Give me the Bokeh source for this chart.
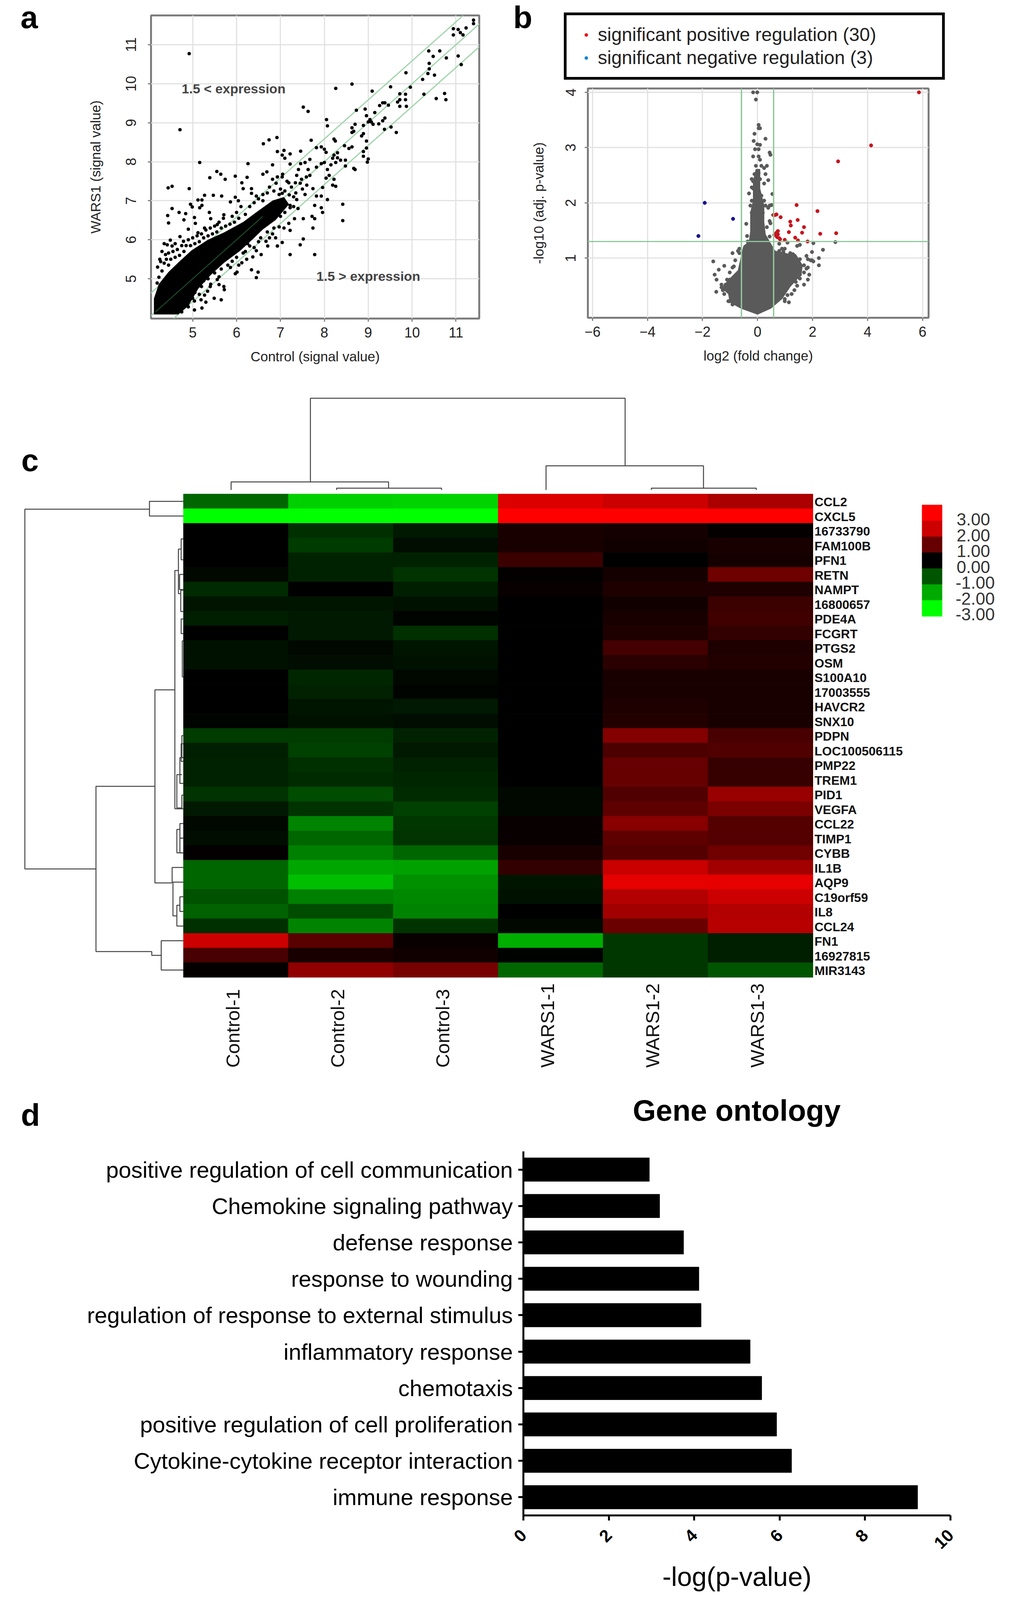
from math import pi
from bokeh.plotting import figure
from bokeh.layouts import row, column
from bokeh.core.properties import value
from bokeh.models import (FactorRange, FixedTicker, Label, Legend, LegendItem, Range1d, Slope, Span)
from bokeh.embed import file_html
from bokeh.resources import INLINE

FONT = "Liberation Sans"

# panel a, scatter
a_ticks = [5, 6, 7, 8, 9, 10, 11]
fold_offset = 0.585
a_blob_x = [4.12, 4.12, 4.23, 4.45, 4.67, 4.97, 5.34, 5.71, 6.15, 6.45, 6.82, 7.08, 7.19, 6.89, 6.60, 6.37, 6.08, 5.71, 5.41, 5.12, 4.90, 4.67]
a_blob_y = [4.09, 4.49, 4.86, 5.17, 5.41, 5.72, 5.99, 6.18, 6.45, 6.70, 7.00, 7.09, 6.91, 6.51, 6.27, 6.02, 5.72, 5.41, 5.10, 4.74, 4.31, 4.09]
a_x = [11.40, 11.40, 10.94, 10.94, 11.05, 11.23, 11.10, 11.16, 10.38, 10.63, 10.48, 10.78, 11.05, 11.12, 10.39, 10.39, 10.36, 10.51, 9.86, 10.24,
       9.96, 9.51, 8.63, 8.26, 9.09, 9.72, 9.85, 10.27, 10.74, 10.55, 10.77, 9.67, 9.72, 9.85, 9.72, 9.87, 7.52, 7.63, 4.92, 4.71,
       8.73, 8.93, 9.15, 9.26, 9.33, 9.38, 9.46, 8.96, 9.04, 9.00, 9.07, 9.11, 9.24, 9.33, 9.38, 8.05, 8.07, 8.70, 8.63, 8.67,
       8.63, 8.89, 8.89, 8.85, 8.96, 9.37, 9.52, 9.64, 6.61, 6.74, 6.92, 7.70, 8.22, 8.25, 7.82, 7.93, 8.00, 8.04, 8.46, 8.56,
       8.63, 8.96, 8.89, 8.89, 9.00, 8.98, 8.30, 8.22, 8.19, 8.30,
       4.43, 4.45, 4.53, 4.44, 4.53, 4.92, 4.95, 4.99, 4.69, 4.84, 4.80, 5.16, 5.39, 5.55, 5.64, 5.74, 5.97, 6.24, 6.26, 5.27,
       5.47, 5.66, 5.12, 5.21, 5.21, 5.16, 5.38, 5.41, 5.04, 5.06, 4.90, 4.71, 4.49, 4.42, 4.53, 4.38, 4.27, 4.23, 4.19, 4.45,
       4.79, 5.12, 5.27, 5.56, 5.71, 5.97, 5.86, 6.04, 6.15, 6.12, 6.34, 6.34, 6.45, 6.60, 6.60, 6.69, 6.82, 6.93, 7.04, 7.05,
       6.82, 6.93, 7.08, 7.04, 7.10, 7.22, 7.22, 7.46, 7.46, 7.56, 7.67,
       7.19, 7.34, 7.37, 7.48, 7.59, 7.67, 7.41, 7.63, 7.82, 7.93, 8.00, 8.07, 8.11, 8.04, 8.22, 8.19, 8.26, 7.96, 7.74, 7.56,
       7.82, 7.93, 8.07, 7.37, 7.22, 7.11, 6.97, 6.97, 7.04, 7.22, 8.48, 8.70, 8.67, 8.48, 8.37, 8.26, 8.15,
       7.10, 7.20, 7.30, 7.35, 7.50, 7.60, 7.45, 7.25,
       8.42, 8.42, 7.93, 7.96, 7.78, 7.72, 7.78, 7.74, 7.52, 7.32, 7.19, 7.22, 7.08, 7.52, 7.45, 7.22, 7.78, 7.04, 6.89, 6.93,
       6.71, 6.56, 6.45, 6.37, 6.23, 6.34, 6.49, 6.45, 6.12, 6.01, 5.97, 5.71, 5.72, 5.49, 5.65, 5.21, 5.04, 4.90, 5.41, 5.34,
       5.19, 5.04, 5.86, 6.15, 6.67, 6.82, 6.97, 6.30, 5.56, 5.27,
       4.20, 4.25, 4.30, 4.35, 4.30, 4.35, 4.40, 4.45, 4.50, 4.55, 4.60, 4.65, 4.70, 4.60, 4.75, 4.80, 4.85, 4.90, 4.95, 5.00,
       5.05, 5.10, 5.15, 5.20, 5.25, 5.30, 5.35, 5.40, 5.45, 5.50, 5.55, 5.60, 5.65, 5.70, 5.75, 5.85, 5.90, 5.95, 6.00, 6.05,
       6.10, 6.20, 6.30, 6.40, 6.50, 6.60, 6.70, 6.75, 6.85, 6.90, 7.00, 7.15,
       4.75, 4.85, 5.00, 5.05, 5.20, 5.25, 5.35, 5.40, 5.50, 5.60, 5.65, 5.80, 5.90, 6.00, 6.05, 6.20, 6.25, 6.40, 6.50, 6.55,
       6.70, 6.75, 6.85, 7.00, 7.10, 7.30, 7.40, 5.15, 5.30, 5.60]
a_y = [11.63, 11.54, 11.41, 11.25, 11.39, 11.43, 11.31, 11.25, 10.84, 10.84, 10.70, 10.66, 10.71, 10.49, 10.52, 10.38, 10.26, 10.22, 10.28, 10.11,
       9.91, 9.92, 9.99, 9.88, 9.81, 9.74, 9.73, 9.73, 9.75, 9.62, 9.59, 9.53, 9.59, 9.59, 9.42, 9.42, 9.40, 9.29, 10.77, 8.82,
       9.32, 9.35, 9.26, 9.44, 9.51, 9.51, 9.45, 9.18, 9.08, 9.02, 9.02, 8.96, 8.97, 9.05, 9.12, 9.08, 8.92, 8.96, 8.87, 8.78,
       8.75, 8.93, 8.72, 8.66, 8.53, 8.83, 8.89, 8.75, 8.46, 8.56, 8.62, 8.55, 8.58, 8.53, 8.36, 8.38, 8.32, 8.24, 8.41, 8.34,
       8.38, 8.35, 8.26, 8.14, 8.07, 7.99, 8.23, 8.17, 8.09, 8.10,
       6.62, 6.43, 6.80, 7.33, 7.37, 7.31, 6.91, 6.84, 6.70, 6.67, 6.51, 7.98, 7.59, 7.75, 7.68, 7.55, 7.63, 7.60, 7.95, 7.14,
       7.14, 7.12, 7.02, 7.02, 6.88, 6.82, 6.70, 6.54, 6.57, 6.42, 6.27, 6.08, 5.99, 5.87, 5.84, 5.62, 5.44, 5.04, 4.89, 5.66,
       5.96, 6.18, 6.30, 6.39, 6.64, 7.09, 6.97, 7.00, 7.31, 7.46, 7.31, 7.19, 7.12, 7.16, 7.68, 7.74, 7.55, 7.61, 7.61, 7.68,
       7.92, 8.26, 8.29, 8.17, 8.09, 8.20, 7.94, 8.27, 7.95, 7.98, 8.06,
       7.46, 7.46, 7.65, 7.55, 7.61, 7.65, 7.80, 7.80, 7.86, 7.95, 7.98, 7.80, 7.65, 7.58, 7.55, 7.40, 7.37, 7.34, 7.31, 7.16,
       7.12, 7.12, 7.03, 7.03, 6.88, 6.94, 7.00, 7.16, 7.19, 6.82, 7.89, 7.80, 7.83, 8.04, 8.04, 7.98, 7.92,
       7.25, 7.15, 7.10, 7.20, 7.30, 7.40, 7.45, 7.35,
       6.91, 6.49, 6.82, 6.70, 6.88, 6.60, 6.54, 6.30, 6.54, 6.54, 6.42, 6.24, 6.30, 6.02, 5.87, 5.62, 5.62, 5.93, 6.05, 5.84,
       5.84, 5.62, 5.72, 5.56, 5.50, 5.23, 5.17, 5.03, 5.41, 5.17, 5.13, 4.80, 4.72, 4.50, 4.46, 4.25, 4.20, 4.28, 4.86, 4.68,
       4.46, 4.43, 5.29, 5.66, 5.96, 6.15, 6.33, 5.84, 4.98, 4.58,
       5.30, 5.50, 5.20, 5.40, 5.70, 5.90, 5.50, 5.35, 5.50, 5.70, 5.55, 5.75, 5.60, 5.90, 5.85, 5.70, 5.85, 6.00, 5.85, 6.05,
       5.90, 6.10, 5.95, 6.15, 6.05, 6.25, 6.10, 6.30, 6.15, 6.35, 6.20, 6.45, 6.30, 6.55, 6.35, 6.40, 6.60, 6.45, 6.70, 6.55,
       6.85, 6.65, 6.85, 6.95, 7.05, 7.00, 7.20, 7.35, 7.25, 7.45, 7.30, 7.50,
       4.15, 4.40, 4.50, 4.65, 4.80, 4.95, 5.00, 4.80, 5.15, 5.05, 5.25, 5.35, 5.45, 5.55, 5.35, 5.70, 5.90, 5.80, 5.95, 6.05,
       6.20, 6.05, 6.30, 6.60, 6.70, 6.85, 6.80, 4.60, 4.40, 4.85]

# panel b, volcano
b_xticks = [-6, -4, -2, 0, 2, 4, 6]
b_yticks = [1, 2, 3, 4]
fold_cuts = [-0.585, 0.585]
p_cut = 1.3
pos_x = [5.87, 4.13, 2.93, 1.42, 2.18, 0.64, 0.57, 0.69, 0.84, 1.46, 1.19, 1.21, 1.69, 1.14, 1.62, 2.28, 2.86, 0.74, 0.69, 0.64, 0.74, 0.71, 0.79, 0.82, 0.99, 1.37, 1.47, 1.82, 0.61, 0.67]
pos_y = [4.0, 3.04, 2.75, 1.96, 1.85, 1.78, 1.78, 1.79, 1.74, 1.69, 1.66, 1.59, 1.56, 1.47, 1.46, 1.44, 1.45, 1.49, 1.46, 1.43, 1.43, 1.38, 1.36, 1.34, 1.33, 1.37, 1.32, 1.30, 1.42, 1.41]
neg_x = [-1.92, -0.89, -2.15]
neg_y = [2.0, 1.71, 1.40]
b_blob_x = [0, -0.61, -1.01, -1.06, -1.31, -1.01, -0.71, -0.61, -0.51, -0.31, -0.26, -0.26, -0.16, -0.16, -0.06, 0.09, 0.09, 0.24, 0.24, 0.29, 0.44, 0.64, 1.19, 1.39, 1.64, 1.59, 1.19, 0.89, 0.49]
b_blob_y = [-0.02, 0.09, 0.20, 0.35, 0.46, 0.63, 0.78, 1.0, 1.22, 1.30, 1.48, 1.82, 2.04, 2.39, 2.61, 2.61, 2.26, 1.95, 1.65, 1.43, 1.30, 1.13, 1.07, 1.07, 0.87, 0.70, 0.48, 0.26, 0.09]
grey_x = [-0.16, -0.01, -0.06, 0.04, 0.04, 0.09, -0.11, 0.29, -0.14, -0.01, 0.09, -0.09, 0.04, 0.44, 0.47, -0.16, 0.04, 0.09, 0.34, -0.06, 0.14, 0.24, 0.29, -0.11, 0.04, 0.39, -0.16, 0.24, -0.21, -0.31,
          0.54, 0.44, 0.51, -0.41, 0.44, 0.47, -0.38, 1.09, 2.03, 2.83, 0.79, 2.38, 1.98, 2.23, 2.23, 1.98, 1.83, -1.61, -1.21, -1.41, -1.56, -1.49, -1.50, -0.91, -0.66, -0.66, -0.56, -0.86, 1.14, 1.69,
          1.88, 1.83, 0.94, 1.09, 1.29, 1.49, 1.69, 1.78, 1.54, 1.39, 1.34, 1.09, 0.99, -1.01, -1.16, -1.31, -1.21, -1.01,
          1.54, 1.19, 0.94, 0.79, 0.89, 0.99, 1.44, 1.54, 1.78, 1.93, 2.03, 1.83, 1.69, 1.54, 1.44, 1.24, 0.99, -0.21, -0.26, 0.19, 0.29, 0.39, 0.34, 0.44, -0.36, -0.41, -0.71, -0.46, -0.81, -0.91,
          -1.01, -1.11, -1.31, -1.26, -1.06, -0.91, -0.16, 0.09, -0.21, 0.14, -0.21, 0.24]
grey_y = [4.0, 4.0, 3.87, 3.41, 3.35, 3.35, 3.25, 3.16, 3.12, 3.06, 3.05, 2.97, 2.97, 2.91, 2.87, 2.84, 2.84, 2.78, 2.67, 2.67, 2.67, 2.63, 2.52, 2.52, 2.54, 2.41, 2.39, 2.35, 2.28, 2.17,
          2.16, 1.95, 1.96, 1.62, 1.67, 1.63, 1.40, 1.28, 1.27, 1.29, 1.26, 1.15, 1.11, 1.0, 0.87, 0.96, 0.98, 0.94, 0.86, 0.79, 0.70, 0.61, 0.39, 1.09, 1.17, 1.09, 0.96, 0.85, 0.20, 0.52,
          0.70, 0.61, 0.96, 1.0, 1.07, 0.96, 0.87, 0.81, 0.70, 0.57, 0.42, 0.33, 0.26, 0.61, 0.52, 0.47, 0.35, 0.22,
          0.98, 1.09, 1.11, 1.13, 1.17, 1.17, 1.22, 1.24, 1.04, 0.96, 0.94, 0.83, 0.74, 0.63, 0.50, 0.35, 0.22, 1.82, 1.95, 1.82, 1.95, 1.91, 1.56, 1.39, 1.30, 1.17, 1.13, 0.98, 0.96, 0.83,
          0.74, 0.61, 0.52, 0.42, 0.22, 0.16, 2.26, 2.43, 2.43, 2.13, 2.04, 2.04]

# panel c, heatmap
samples = ["Control-1", "Control-2", "Control-3", "WARS1-1", "WARS1-2", "WARS1-3"]
genes = ["CCL2", "CXCL5", "16733790", "FAM100B", "PFN1", "RETN", "NAMPT", "16800657", "PDE4A", "FCGRT", "PTGS2", "OSM", "S100A10", "17003555", "HAVCR2", "SNX10", "PDPN",
         "LOC100506115", "PMP22", "TREM1", "PID1", "VEGFA", "CCL22", "TIMP1", "CYBB", "IL1B", "AQP9", "C19orf59", "IL8", "CCL24", "FN1", "16927815", "MIR3143"]
heat_values = [
    [-1.2, -2.45, -2.5, 2.6, 2.4, 2.0],
    [-3, -3, -3, 3, 3, 3],
    [0, -0.55, -0.3, 0.3, 0.25, 0.05],
    [0, -0.7, -0.15, 0.3, 0.2, 0.3],
    [0, -0.4, -0.4, 0.7, 0, 0.25],
    [-0.1, -0.4, -0.6, 0.03, 0.25, 1.3],
    [-0.5, 0, -0.35, 0.1, 0.35, 0.35],
    [-0.25, -0.25, -0.2, 0, 0.2, 0.7],
    [-0.35, -0.3, -0.05, 0, 0.3, 0.75],
    [0, -0.3, -0.55, 0, 0.35, 0.6],
    [-0.2, -0.1, -0.25, 0, 0.8, 0.35],
    [-0.2, -0.15, -0.2, 0, 0.5, 0.4],
    [0, -0.45, -0.1, 0, 0.3, 0.3],
    [0, -0.4, -0.05, 0, 0.3, 0.3],
    [0, -0.25, -0.3, 0, 0.35, 0.3],
    [-0.05, -0.2, -0.15, 0, 0.4, 0.3],
    [-0.7, -0.7, -0.4, 0, 1.55, 0.85],
    [-0.35, -0.75, -0.3, 0, 0.9, 0.95],
    [-0.4, -0.55, -0.4, 0, 1.2, 0.65],
    [-0.4, -0.5, -0.45, 0, 1.2, 0.65],
    [-0.6, -0.9, -0.5, -0.1, 0.95, 1.8],
    [-0.3, -0.6, -0.75, -0.1, 1.1, 1.45],
    [-0.1, -1.55, -0.65, 0.1, 1.6, 1.0],
    [-0.15, -1.2, -0.6, 0.1, 1.1, 1.0],
    [0.02, -1.5, -1.2, 0.3, 1.0, 1.3],
    [-1.2, -1.95, -1.9, 0.6, 2.35, 1.9],
    [-1.2, -2.25, -1.7, -0.25, 2.7, 2.7],
    [-0.95, -1.5, -1.6, -0.2, 2.1, 2.4],
    [-1.15, -0.9, -1.55, 0, 1.9, 2.1],
    [-0.55, -1.55, -0.6, -0.1, 1.25, 2.15],
    [2.4, 1.05, 0.1, -2.05, -0.65, -0.35],
    [0.85, 0.3, 0.2, -0.02, -0.65, -0.35],
    [0.05, 1.7, 1.4, -1.2, -0.65, -1.0],
]
key_labels = ["3.00", "2.00", "1.00", "0.00", "-1.00", "-2.00", "-3.00"]
key_colors = ["#ff0000", "#cc0000", "#660000", "#000000", "#005500", "#00aa00", "#00ff00"]

# dendrograms: from, to, height, end of first leg, end of second leg
top_from = [1.21, 0.454, 1.46, 3.456, 4.46]
top_to = [4.21, 1.955, 2.46, 4.957, 5.46]
top_height = [-6.54, -0.83, -0.40, -1.93, -0.40]
top_leg_a = [-0.83, -0.28, -0.28, -0.28, -0.28]
top_leg_b = [-1.93, -0.40, -0.28, -0.40, -0.28]
side_from = [1.03, 0.5, 19.96, 13.37, 5.22, 25.5, 26.5, 28.08, 27.5, 31.24, 30.5, 3.76, 3.06, 5.49, 6.57, 8.53, 10.03, 16.5, 17.05, 18.0, 19.16, 20.56, 22.5, 22.9, 23.5]
side_to = [25.6, 1.5, 31.24, 26.55, 21.49, 26.5, 28.81, 29.5, 28.5, 31.5, 32.5, 6.8, 4.49, 6.52, 8.02, 9.53, 12.49, 18.0, 18.25, 19.76, 21.44, 21.49, 23.5, 24.5, 24.5]
side_height = [-1.512, -0.324, -0.834, -0.272, -0.082, -0.108, -0.1, -0.063, -0.034, -0.302, -0.212, -0.048, -0.022, -0.037, -0.026, -0.022, -0.011, -0.015, -0.022, -0.034, -0.063, -0.015, -0.034, -0.063, -0.034]
side_leg_a = [-0.324, 0, -0.272, -0.082, -0.048, 0, -0.1, -0.034, 0, -0.302, 0, -0.022, 0, 0, 0, 0, 0, 0, 0, 0, -0.015, 0, 0, -0.034, 0]
side_leg_b = [-0.834, 0, -0.302, -0.108, -0.015, 0, -0.063, 0, 0, -0.212, 0, -0.026, 0, 0, 0, 0, 0, 0, 0, 0, -0.015, 0, 0, 0, 0]

# panel d, bars
terms = ["positive regulation of cell communication", "Chemokine signaling pathway", "defense response", "response to wounding",
         "regulation of response to external stimulus", "inflammatory response", "chemotaxis", "positive regulation of cell proliferation",
         "Cytokine-cytokine receptor interaction", "immune response"]
log_p = [2.95, 3.19, 3.75, 4.11, 4.16, 5.31, 5.58, 5.93, 6.28, 9.23]
d_ticks = [0, 2, 4, 6, 8, 10]


def heat_color(v):
    level = int(round(min(abs(v), 3) / 3 * 255))
    return "#%02x0000" % level if v >= 0 else "#00%02x00" % level


def style_small(p, xticks, yticks):
    p.xaxis.ticker = FixedTicker(ticks=xticks)
    p.yaxis.ticker = FixedTicker(ticks=yticks)
    p.axis.axis_line_color = None
    p.axis.major_tick_line_color = "#808080"
    p.axis.major_tick_line_width = 3
    p.axis.major_tick_out = 8
    p.axis.major_tick_in = 0
    p.axis.minor_tick_line_color = None
    p.axis.major_label_text_font = FONT
    p.axis.major_label_text_font_size = "36px"
    p.axis.major_label_text_color = "#222222"
    p.axis.axis_label_text_font = FONT
    p.axis.axis_label_text_font_size = "35px"
    p.axis.axis_label_text_font_style = "normal"
    p.axis.axis_label_text_color = "#222222"
    p.yaxis.major_label_orientation = "vertical"
    p.grid.grid_line_color = "#e2e2e2"
    p.grid.grid_line_width = 3
    p.outline_line_color = "#7d7d7d"
    p.outline_line_width = 5


def blank_figure(w, h):
    # plain pixel canvas for the letters, title and legend that sit outside a frame
    p = figure(width=w, height=h, min_border=0, frame_align=False, x_range=Range1d(0, w), y_range=Range1d(h, 0),
               output_backend="svg", toolbar_location=None)
    p.axis.visible = False
    p.grid.visible = False
    p.outline_line_color = None
    return p


def panel_letter(p, text, x, y):
    p.add_layout(Label(x=x, y=y, text=text, text_font=FONT, text_font_size="80px",
                       text_font_style="bold", text_color="black", text_baseline="alphabetic"))


# scatter
strip_a = blank_figure(200, 937)
panel_letter(strip_a, "a", 52, 44)
pa = figure(width=1092, height=937, min_border_left=186, min_border_right=66, min_border_top=39, min_border_bottom=122, frame_align=False,
            x_range=Range1d(4.05, 11.53), y_range=Range1d(3.98, 11.75), output_backend="svg", toolbar_location=None)
style_small(pa, a_ticks, a_ticks)
pa.xaxis.axis_label = "Control (signal value)"
pa.yaxis.axis_label = "WARS1 (signal value)"
pa.xaxis.major_label_standoff = 14
pa.xaxis.axis_label_standoff = 26
pa.yaxis.major_label_standoff = 30
pa.yaxis.axis_label_standoff = 56
for offset in [fold_offset, 0, -fold_offset]:
    pa.add_layout(Slope(gradient=1, y_intercept=offset, line_color="#9fd4a9", line_width=3, level="underlay"))
pa.patch(a_blob_x, a_blob_y, color="black")
pa.scatter(a_x, a_y, size=8, color="black")
pa.line([4.15, 6.6], [4.15, 6.6], color="#1f5a33", line_width=2)
pa.add_layout(Label(x=4.75, y=9.87, text="1.5 < expression", text_font=FONT, text_font_size="34px", text_font_style="bold", text_baseline="middle"))
pa.add_layout(Label(x=7.82, y=5.07, text="1.5 > expression", text_font=FONT, text_font_size="34px", text_font_style="bold", text_baseline="middle"))

# legend and letter above the volcano
head_b = blank_figure(1282, 223)
panel_letter(head_b, "b", 21, 44)
key_pos = head_b.scatter([-50], [-50], size=11, color="#ee1111")
key_neg = head_b.scatter([-50], [-50], size=11, color="#0a84d8")
legend = Legend(items=[LegendItem(label="significant positive regulation (30)", renderers=[key_pos]),
                       LegendItem(label="significant negative regulation (3)", renderers=[key_neg])],
                location=(151, 19), padding=20, margin=0, spacing=0, glyph_width=60, glyph_height=20, label_standoff=0,
                label_width=861, label_height=59, label_text_font=FONT, label_text_font_size="48px", label_text_color="#222222",
                border_line_color="black", border_line_alpha=1, border_line_width=7, background_fill_color="white", background_fill_alpha=1)
head_b.add_layout(legend)

# volcano
pb = figure(width=1282, height=714, min_border_left=212, min_border_right=198, min_border_top=3, min_border_bottom=124, frame_align=False,
            x_range=Range1d(-6.17, 6.22), y_range=Range1d(-0.08, 4.07), output_backend="svg", toolbar_location=None)
style_small(pb, b_xticks, b_yticks)
pb.xaxis.axis_label = "log2 (fold change)"
pb.yaxis.axis_label = "-log10 (adj. p-value)"
pb.xaxis.major_label_standoff = 14
pb.xaxis.axis_label_standoff = 26
pb.yaxis.major_label_standoff = 23
pb.yaxis.axis_label_standoff = 47
pb.patch(b_blob_x, b_blob_y, color="#5a5a5a")
pb.scatter(grey_x, grey_y, size=9, color="#5a5a5a")
pb.scatter(pos_x, pos_y, size=9, color="#c8141e")
pb.scatter(neg_x, neg_y, size=9, color="#15158c")
for cut in fold_cuts:
    pb.add_layout(Span(location=cut, dimension="height", line_color="#8fc79a", line_width=3.5))
pb.add_layout(Span(location=p_cut, dimension="width", line_color="#8fc79a", line_width=3))

# heatmap with dendrograms, columns and rows are the unit here
pc = figure(width=2574, height=1852, min_border=0, frame_align=False, x_range=Range1d(-1.747, 7.84), y_range=Range1d(40.67, -8.73),
            output_backend="svg", toolbar_location=None)
pc.axis.visible = False
pc.grid.visible = False
pc.outline_line_color = None
cell_x, cell_y, cell_color = [], [], []
for i, values in enumerate(heat_values):
    for j, v in enumerate(values):
        cell_x.append(j + 0.5)
        cell_y.append(i + 0.5)
        cell_color.append(heat_color(v))
pc.rect(cell_x, cell_y, width=1, height=1, fill_color=cell_color, line_color=cell_color, line_width=1)
pc.text([6.015] * len(genes), [i + 0.55 for i in range(len(genes))], text=genes, text_font=value(FONT), text_font_size="32px",
        text_font_style="bold", text_color="#111111", text_baseline="middle", text_align="left")
pc.text([j + 0.47 for j in range(len(samples))], [39.17] * len(samples), text=samples, angle=pi / 2, text_font=value(FONT),
        text_font_size="49px", text_color="#111111", text_baseline="middle", text_align="left")
top_xs = [[a, a, b, b] for a, b in zip(top_from, top_to)]
top_ys = [[la, h, h, lb] for la, h, lb in zip(top_leg_a, top_height, top_leg_b)]
side_xs = [[la, h, h, lb] for la, h, lb in zip(side_leg_a, side_height, side_leg_b)]
side_ys = [[a, a, b, b] for a, b in zip(side_from, side_to)]
pc.multi_line(top_xs, top_ys, line_color="#444444", line_width=2.5)
pc.multi_line(side_xs, side_ys, line_color="#444444", line_width=2.5)
key_y = [1.29 + 1.086 * k for k in range(len(key_labels))]
pc.rect([7.136] * len(key_y), key_y, width=0.19, height=1.086, fill_color=key_colors, line_color=key_colors)
pc.text([7.37 if k < 4 else 7.36 for k in range(len(key_labels))], [1.73 + 1.08 * k for k in range(len(key_labels))], text=key_labels,
        text_font=value(FONT), text_font_size="44px", text_color="#333333", text_baseline="middle", text_align="left")
panel_letter(pc, "c", -1.546, -2.3)

# letter and title above the bars
head_d = blank_figure(2574, 150)
panel_letter(head_d, "d", 53, 65)
head_d.add_layout(Label(x=1885, y=53, text="Gene ontology", text_font=FONT, text_font_size="76px", text_font_style="bold",
                        text_color="black", text_align="center", text_baseline="middle"))

# bars
pd = figure(width=2574, height=1138, min_border_left=1339, min_border_right=142, min_border_top=8, min_border_bottom=198, frame_align=False,
            x_range=Range1d(0, 10), y_range=FactorRange(factors=terms[::-1]), output_backend="svg", toolbar_location=None)
pd.hbar(y=terms, right=log_p, left=0, height=0.645, color="black")
pd.grid.visible = False
pd.outline_line_color = None
pd.xaxis.ticker = FixedTicker(ticks=d_ticks)
pd.xaxis.major_label_orientation = pi / 4
pd.xaxis.major_label_text_font_style = "bold"
pd.xaxis.major_label_text_font_size = "44px"
pd.xaxis.major_label_standoff = 30
pd.xaxis.axis_label = "-log(p-value)"
pd.xaxis.axis_label_text_font_size = "68px"
pd.xaxis.axis_label_text_font_style = "normal"
pd.xaxis.axis_label_standoff = 16
pd.yaxis.major_label_text_font_size = "58px"
pd.yaxis.major_label_standoff = 14
pd.axis.major_label_text_color = "black"
pd.axis.major_label_text_font = FONT
pd.axis.axis_label_text_font = FONT
pd.axis.axis_label_text_color = "black"
pd.axis.axis_line_color = "black"
pd.axis.axis_line_width = 5
pd.axis.major_tick_line_color = "black"
pd.axis.major_tick_line_width = 5
pd.axis.major_tick_out = 13
pd.axis.major_tick_in = 0
pd.axis.minor_tick_line_color = None

top_row = row(strip_a, pa, column(head_b, pb, spacing=0), spacing=0)
open("out.html", "w").write(file_html([top_row, pc, head_d, pd], INLINE))
